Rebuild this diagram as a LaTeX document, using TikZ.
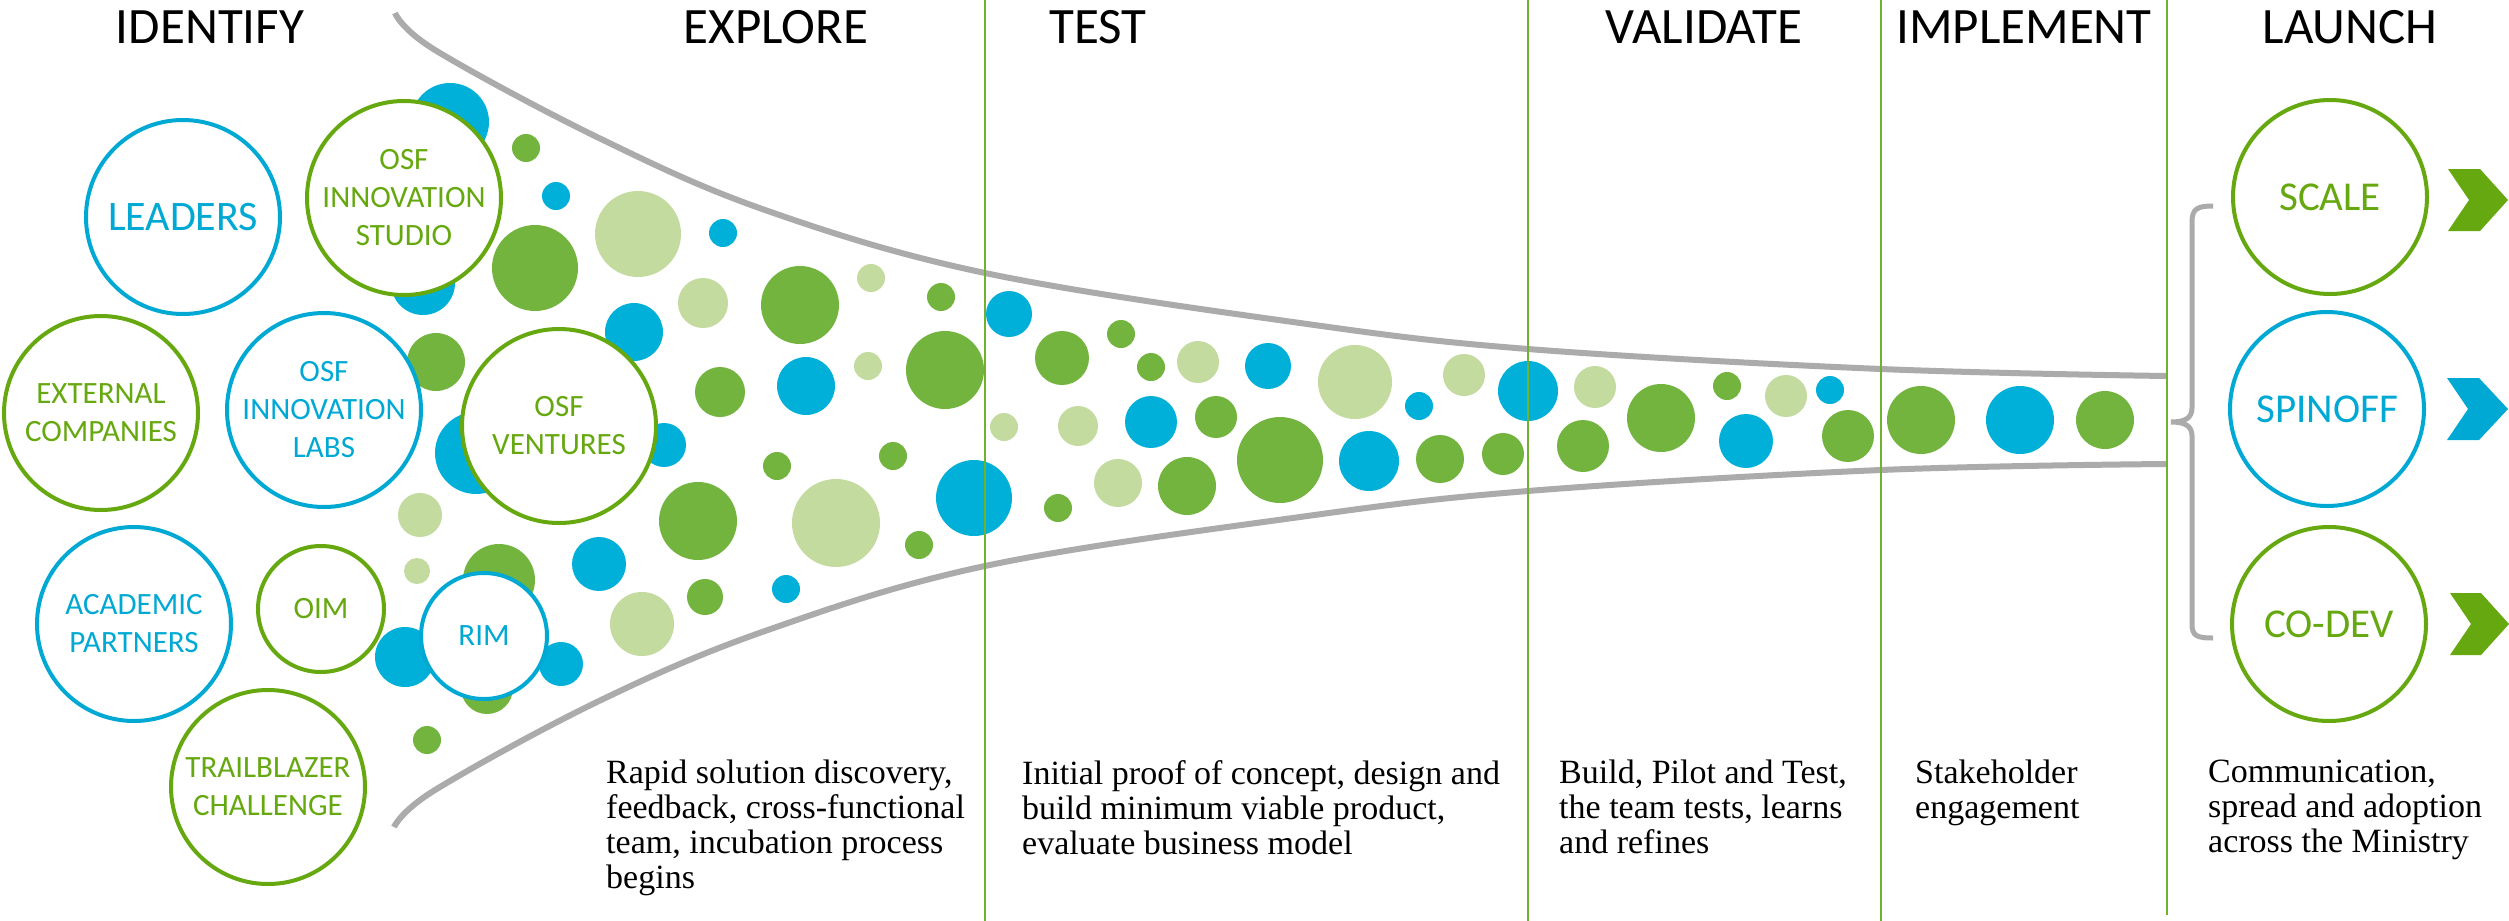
\documentclass[tikz,border=0pt]{standalone}
\usepackage{fontspec}
\setmainfont{Liberation Serif}
\newfontfamily\lblfont{Carlito}
\definecolor{dotb}{HTML}{00B0D8}
\definecolor{dotg}{HTML}{72B43E}
\definecolor{dotl}{HTML}{C3DB9F}
\definecolor{ogreen}{HTML}{66A80F}
\definecolor{oblue}{HTML}{00A9D4}
\definecolor{vgreen}{HTML}{72B030}
\definecolor{fgray}{HTML}{ABABAB}
\tikzset{
  lbl/.style={circle, fill=white, line width=4pt, inner sep=0pt, align=center,
    font=\lblfont\fontsize{31}{38}\selectfont},
  bigc/.style={minimum size=194pt},
  smallc/.style={minimum size=126pt},
  gl/.style={draw=ogreen, text=ogreen},
  bl/.style={draw=oblue, text=oblue},
  hdr/.style={font=\lblfont\fontsize{51}{60}\selectfont, anchor=base, inner sep=0pt, text=black},
  desc/.style={font=\fontsize{34}{35}\selectfont, align=left, anchor=north west, inner sep=0pt, text=black},
  funnel/.style={draw=fgray, line width=6pt},
  vline/.style={draw=vgreen, line width=1.6pt},
  brace/.style={draw=fgray, line width=5pt},
}
\begin{document}
\begin{tikzpicture}[x=1pt,y=-1pt]
\useasboundingbox (0,0) rectangle (2509,921);
\fill[white] (0,0) rectangle (2509,921);

% funnel
\draw[funnel] plot[smooth, tension=0.6] coordinates {(395,13) (435,50) (599,138) (765,210) (985,273) (1300,323) (1528,349) (1881,369) (2166,376)};
\draw[funnel] plot[smooth, tension=0.6] coordinates {(394,827) (435,790) (599,701) (765,631) (985,566) (1300,517) (1528,491) (1881,470) (2166,464)};

% dots
\foreach \x/\y/\r in {450/122/39, 423/283/32, 556/196/14, 723/233/14, 634/332/29, 806/386/29,
  1009/314/23, 1268/366/23, 1419/406/14, 1528/391/30, 1151/422/26, 1369/461/30, 974/498/38,
  599/564/27, 786/589/14, 476/453/41, 664/445/22, 405/657/30, 561/664/22,
  1830/390/14, 1746/441/27, 2020/420/34}
  \fill[dotb] (\x,\y) circle (\r pt);
\foreach \x/\y/\r in {526/148/14, 535/268/43, 800/305/39, 941/297/14, 436/362/29, 945/370/39,
  720/392/25, 1062/358/27, 1121/334/14, 1151/367/14, 1216/417/21, 1280/460/43, 1440/459/24,
  1503/454/21, 1187/486/29, 1058/508/14, 698/521/39, 919/545/14, 705/597/18, 777/466/14,
  893/456/14, 499/580/36, 487/688/26, 427/740/14, 1661/418/34, 1727/386/14, 1848/436/26,
  1583/446/26, 1921/420/34, 2105/420/29}
  \fill[dotg] (\x,\y) circle (\r pt);
\foreach \x/\y/\r in {638/234/43, 703/303/25, 871/278/14, 868/366/14, 1198/362/21, 1355/382/37,
  1464/375/21, 1004/427/14, 1078/426/20, 1118/483/24, 836/523/44, 642/624/32, 420/515/22,
  417/571/13, 1595/387/21, 1786/396/21}
  \fill[dotl] (\x,\y) circle (\r pt);

% phase separators
\draw[vline] (985,0) -- (985,921);
\draw[vline] (1528,0) -- (1528,921);
\draw[vline] (1881,0) -- (1881,921);
\draw[vline] (2167,0) -- (2167,915);

% headers
\node[hdr] (hid) at (210,43) {IDENTIFY};
\node[hdr] (hex) at (776,43) {EXPLORE};
\node[hdr] (hte) at (1098,43) {TEST};
\node[hdr] (hva) at (1704,43) {VALIDATE};
\node[hdr] (him) at (2024,43) {IMPLEMENT};
\node[hdr] (hla) at (2350,43) {LAUNCH};

% source circles
\node[lbl, bigc, bl, font=\lblfont\fontsize{42}{50}\selectfont] (leaders) at (183,217) {LEADERS};
\node[lbl, bigc, gl] (studio) at (404,198) {OSF\\INNOVATION\\STUDIO};
\node[lbl, bigc, gl] (extern) at (101,413) {EXTERNAL\\COMPANIES};
\node[lbl, bigc, bl] (labs) at (324,410) {OSF\\INNOVATION\\LABS};
\node[lbl, bigc, gl] (ventures) at (559,426) {OSF\\VENTURES};
\node[lbl, bigc, bl] (academic) at (134,624) {ACADEMIC\\PARTNERS};
\node[lbl, smallc, gl] (oim) at (321,609) {OIM};
\node[lbl, smallc, bl] (rim) at (484,636) {RIM};
\node[lbl, bigc, gl] (trail) at (268,787) {TRAILBLAZER\\CHALLENGE};

% launch circles
\node[lbl, bigc, gl, font=\lblfont\fontsize{41}{50}\selectfont] (scale) at (2330,197) {SCALE};
\node[lbl, bigc, bl, font=\lblfont\fontsize{41}{50}\selectfont] (spinoff) at (2327,409) {SPINOFF};
\node[lbl, bigc, gl, font=\lblfont\fontsize{41}{50}\selectfont] (codev) at (2329,624) {CO-DEV};

% brace
\draw[brace] (2213,206) .. controls (2197,206) and (2192,209) .. (2192,222) -- (2192,408)
  .. controls (2192,418) and (2185,422) .. (2171,422)
  .. controls (2185,422) and (2192,426) .. (2192,436) -- (2192,624)
  .. controls (2192,636) and (2197,638) .. (2213,638);

% chevrons
\fill[ogreen] (2448,169) -- (2480,169) -- (2508,200) -- (2480,231) -- (2448,231) -- (2469,200) -- cycle;
\fill[oblue] (2447,378) -- (2479,378) -- (2508,409) -- (2479,440) -- (2447,440) -- (2468,409) -- cycle;
\fill[ogreen] (2450,593) -- (2481,593) -- (2509,624) -- (2481,655) -- (2450,655) -- (2471,624) -- cycle;

% descriptions
\node[desc] (dexp) at (606,760) {Rapid solution discovery,\\feedback, cross-functional\\team, incubation process\\begins};
\node[desc] (dtest) at (1022,760) {Initial proof of concept, design and\\build minimum viable product,\\evaluate business model};
\node[desc] (dval) at (1559,760) {Build, Pilot and Test,\\the team tests, learns\\and refines};
\node[desc] (dimp) at (1915,760) {Stakeholder\\engagement};
\node[desc] (dlau) at (2208,760) {Communication,\\spread and adoption\\across the Ministry};
\end{tikzpicture}
\end{document}
